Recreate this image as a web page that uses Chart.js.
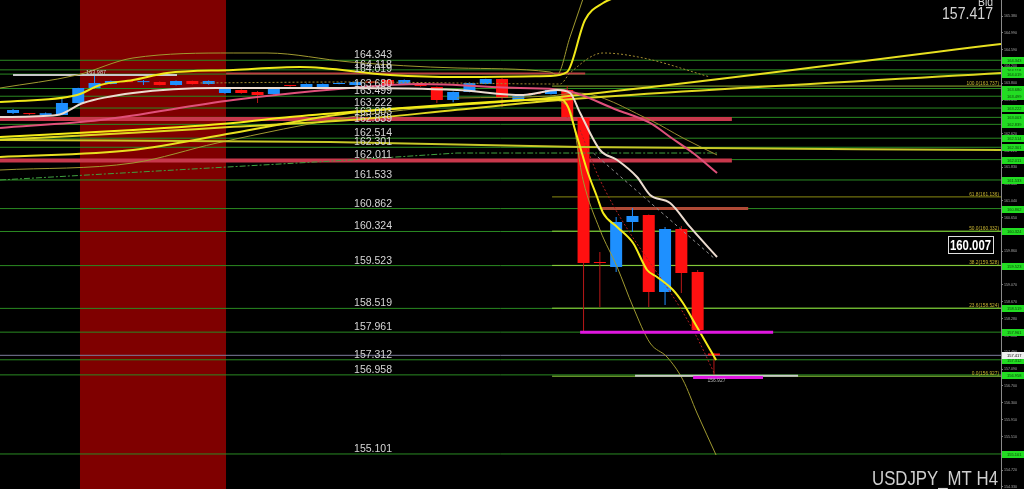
<!DOCTYPE html>
<html><head><meta charset="utf-8">
<script src="https://cdn.jsdelivr.net/npm/chart.js@4"></script>
<style>html,body{margin:0;padding:0;background:#000;overflow:hidden}canvas{display:block}</style>
</head><body>
<canvas id="c" width="1024" height="489"></canvas>
<script>
// ---------- DATA ----------
const opens  = [163.106,163.09,163.06,163.058,163.340,163.692,163.786,163.838,163.830,163.833,163.763,163.857,163.786,163.575,163.645,163.598,163.551,163.745,163.692,163.692,163.786,163.763,163.825,163.880,163.786,163.786,163.716,163.411,163.598,163.786,163.904,163.411,163.555,163.551,163.645,162.988,159.600,159.490,160.547,160.711,158.904,160.383,159.373,157.460];
const highs  = [163.20,163.10,163.12,163.434,163.70,163.974,163.87,163.85,163.88,163.85,163.87,163.87,163.87,163.68,163.66,163.62,163.68,163.76,163.80,163.80,163.83,163.85,163.84,163.89,163.89,163.80,163.73,163.61,163.82,163.91,163.92,163.52,163.57,163.66,163.737,163.01,159.843,160.664,160.875,160.72,160.430,160.453,159.42,157.48];
const lows   = [163.08,163.06,163.05,163.05,163.33,163.68,163.78,163.82,163.76,163.75,163.75,163.77,163.77,163.56,163.56,163.34,163.54,163.72,163.68,163.68,163.78,163.75,163.80,163.75,163.78,163.72,163.34,163.36,163.59,163.78,163.246,163.40,163.53,163.54,163.00,157.99,158.551,159.373,160.312,158.551,158.598,158.880,158.00,156.927];
const closes = [163.176,163.08,163.10,163.340,163.692,163.810,163.857,163.830,163.836,163.763,163.857,163.786,163.857,163.669,163.575,163.528,163.669,163.740,163.786,163.786,163.810,163.833,163.820,163.763,163.880,163.739,163.411,163.598,163.810,163.904,163.458,163.505,163.550,163.645,163.011,159.584,159.584,160.547,160.688,158.904,160.383,159.350,158.012,157.417];

const yTickValues = [165.380,164.990,164.590,164.200,163.800,163.410,163.020,162.620,162.220,161.830,161.440,161.040,160.650,160.260,159.860,159.460,159.070,158.670,158.280,157.880,157.490,157.090,156.700,156.300,155.910,155.510,155.120,154.720,154.330];
const levelPrices = [164.343,164.118,164.019,163.680,163.499,163.222,163.003,162.839,162.514,162.301,162.011,161.533,160.862,160.324,159.523,158.519,157.961,157.312,156.958,155.101];
const fibRatios = ['100.0','61.8','50.0','38.2','23.6','0.0'];
const fibPrices = [163.737,161.136,160.332,159.528,158.524,156.927];
const bidPrice = 157.417;
const crossPrice = 160.007;
const lowPrice = 156.927;
const highMarkPrice = 163.987;
const symbolText = 'USDJPY_MT H4';

// indicator lines: bar position / price
const bbUpX = [-0.8,3.93,7.36,13.5,15.58,20.67,27.24,32.94,33.37,34.17,34.97];
const bbUpY = [163.692,163.997,164.397,164.514,164.514,164.303,164.162,164.068,164.000,164.890,165.790];
const yUpX = [-0.8,3.93,5.34,7.36,9.45,13.5,17.61,23.13,27.24,32.94,33.99,35.09,36.2,37.2];
const yUpY = [163.364,163.528,163.763,163.880,164.044,164.115,164.185,164.000,163.950,163.974,164.068,165.289,165.688,165.85];
const whiteX = [-0.8,2.7,4.29,7.36,12.52,20.67,27.24,31.29,33.37,34.17,34.79,36.01,37.06,38.28,39.08,40.31,41.53,43.19];
const whiteY = [163.011,163.058,163.340,163.575,163.692,163.692,163.645,163.528,163.645,163.575,163.106,162.237,162.002,161.603,161.181,160.993,160.430,159.725];
const pinkX = [-0.8,5.34,13.5,20.67,24.97,31.1,33.74,37.06,39.08,40.31,41.72,43.19];
const pinkY = [162.753,162.941,163.411,163.692,163.786,163.692,163.645,163.176,162.871,162.542,162.166,161.697];
const oliveMidX = [27.24,32.94,34.6,39.08,41.1,43.19];
const oliveMidY = [163.458,163.505,163.575,162.941,162.519,162.120];
const fastX = [-0.8,7.36,13.5,16.99,20.67,29.26,33.56,34.05,34.48,34.79,35.21,35.83,36.2,37.06,38.04,38.9,39.51,40.49,41.1,41.96,43.13];
const fastY = [162.542,162.706,162.871,163.011,163.129,163.364,163.434,163.246,162.706,162.307,161.767,161.134,160.758,160.430,160.054,159.420,159.256,158.951,158.645,158.082,157.308];
const longAX = [-0.8,7.36,13.5,20.67,27.24,33.56,60.61];
const longAY = [162.073,162.237,162.636,163.106,163.293,163.481,164.725];
const longBX = [-0.8,7.36,13.5,20.67,27.24,33.56,60.61];
const longBY = [162.480,162.640,162.780,162.940,163.180,163.411,164.044];
const flatX = [-0.8,19.45,34.79,60.61];
const flatY = [162.472,162.425,162.307,162.237];
const bbLoX = [-0.8,7.36,12.52,20.67,27.24,33.0,34.17,34.97,36.01,37.06,38.04,39.08,40.12,41.1,41.96,43.13];
const bbLoY = [161.767,161.932,162.401,163.011,163.293,163.411,163.176,161.533,160.359,159.490,158.551,157.706,157.378,156.838,156.063,155.077];
const dotUpX = [11.5,20.67,33.56,34.17,36.2,38.66,42.76];
const dotUpY = [163.810,163.833,163.786,164.044,164.514,164.397,163.950];
const dotLoX = [34.79,36.01,41.72,43.13];
const dotLoY = [162.706,161.533,158.012,156.908];
const greyDashX = [35.6,43.0];
const greyDashY = [162.166,159.700];
const dashGreenX = [-0.8,20.67,27.24,43.19];
const dashGreenY = [161.533,162.002,162.166,162.166];

// horizontal objects: [price, fromBar, toBar]
const redLines = [[162.965,-0.8,44.1],[161.990,-0.8,44.1]];
const brownLines = [[160.862,36.13,45.1]];
const topRedLines = [[164.030,13.07,35.1]];
const whiteHighLines = [[163.997,0,10.06]];
const magentaLines = [[157.961,34.79,46.63],[156.895,41.72,46.01]];
const greyLowLines = [[156.940,38.16,48.16]];
const bandX = [4.1,13.07];
const fibFrom = 33.07;

// ---------- CHART ----------
const X_MIN = -0.8, X_MAX = 60.61, Y_MIN = 154.279, Y_MAX = 165.758;
const RED = '#ff1010', BLUE = '#1e90ff';

function lineDs(xs, ys, color, width, extra) {
  return Object.assign({type:'line', data: xs.map((x,i)=>({x, y: ys[i]})), borderColor: color, borderWidth: width,
    pointRadius: 0, fill: false, cubicInterpolationMode: 'monotone', tension: 0.4, order: 30}, extra || {});
}
function hDs(p, a, b, color, width, order, extra) {
  return Object.assign({type:'line', data:[{x:a, y:p},{x:b, y:p}], borderColor: color, borderWidth: width,
    pointRadius: 0, fill: false, tension: 0, order}, extra || {});
}

const datasets = [];
// band
datasets.push({type:'line', data:[{x:bandX[0], y:Y_MAX},{x:bandX[1], y:Y_MAX}], borderWidth:0, borderColor:'rgba(0,0,0,0)',
  pointRadius:0, fill:'start', backgroundColor:'#7f0000', order:100});
// green levels
levelPrices.forEach(p => datasets.push(hDs(p, X_MIN, X_MAX, '#2a8a22', 1, 90)));
// fib levels
fibPrices.forEach((p,i) => datasets.push(hDs(p, fibFrom, X_MAX, i === 1 ? '#8a8a12' : (i === 0 ? '#8fb030' : '#8fd23c'), 1, 88)));
// bid line
datasets.push(hDs(bidPrice, X_MIN, X_MAX, '#7c7c9c', 1, 87));
// red levels
redLines.forEach(r => datasets.push(hDs(r[0], r[1], r[2], '#c8384c', 4, 80)));
brownLines.forEach(r => datasets.push(hDs(r[0], r[1], r[2], '#b04a36', 3, 80)));
topRedLines.forEach(r => datasets.push(hDs(r[0], r[1], r[2], '#b84040', 2, 80)));
whiteHighLines.forEach(r => datasets.push(hDs(r[0], r[1], r[2], '#c8c8c8', 2, 80)));
// candles
const bars = opens.map((o,i)=>i);
datasets.push({type:'bar', data: bars.map(i => ({x:i, y:[lows[i], highs[i]]})),
  backgroundColor: bars.map(i => closes[i] >= opens[i] ? BLUE : '#b81818'), barThickness:1, grouped:false, inflateAmount:0, order:62});
datasets.push({type:'bar', data: bars.map(i => ({x:i, y:[opens[i], closes[i]]})),
  backgroundColor: bars.map(i => closes[i] >= opens[i] ? BLUE : RED), barThickness:12, minBarLength:1, grouped:false, inflateAmount:0, order:60});
// indicators
datasets.push(lineDs(bbUpX, bbUpY, '#a09a30', 1, {order:40}));
datasets.push(lineDs(bbLoX, bbLoY, '#a09a30', 1, {order:40}));
datasets.push(lineDs(dashGreenX, dashGreenY, '#3fa03f', 1, {order:41, borderDash:[6,2,2,2], tension:0, cubicInterpolationMode:'default'}));
datasets.push(lineDs(dotUpX, dotUpY, '#a08a30', 1, {order:41, borderDash:[2,2]}));
datasets.push(lineDs(dotLoX, dotLoY, '#b02020', 1, {order:41, borderDash:[2,2]}));
datasets.push(lineDs(greyDashX, greyDashY, '#909090', 1, {order:41, borderDash:[3,3]}));
datasets.push(lineDs(oliveMidX, oliveMidY, '#9a8a30', 1, {order:39}));
datasets.push(lineDs(flatX, flatY, '#c8c828', 2, {order:38}));
datasets.push(lineDs(longAX, longAY, '#e8e020', 2, {order:36}));
datasets.push(lineDs(longBX, longBY, '#e0d820', 2, {order:36}));
datasets.push(lineDs(pinkX, pinkY, '#e0507a', 2, {order:34}));
datasets.push(lineDs(whiteX, whiteY, '#ecdcd0', 2, {order:33}));
datasets.push(lineDs(yUpX, yUpY, '#f0e818', 2, {order:32}));
datasets.push(lineDs(fastX, fastY, '#f4ec18', 2, {order:31}));
// markers
greyLowLines.forEach(r => datasets.push(hDs(r[0], r[1], r[2], '#c8c8c8', 2, 22)));
magentaLines.forEach(r => datasets.push(hDs(r[0], r[1], r[2], '#e018e0', 3, 20)));

function fitText(ctx, text, x, y, w, alignRight) {
  const m = ctx.measureText(text).width;
  const s = w ? w / m : 1;
  ctx.save();
  ctx.translate(x, y);
  ctx.scale(s, 1);
  ctx.textAlign = 'left';
  ctx.fillText(text, alignRight ? -m : 0, 0);
  ctx.restore();
}

const textPlugin = {
  id: 'mtTexts',
  afterDatasetsDraw(chart) {
    const {ctx, scales:{x, y}, chartArea} = chart;
    ctx.save();
    ctx.textBaseline = 'alphabetic';
    // level labels
    ctx.font = '11px "Liberation Sans"';
    ctx.fillStyle = '#d6d6d6';
    const lx = x.getPixelForValue(20.92);
    levelPrices.forEach(p => fitText(ctx, p.toFixed(3), lx, y.getPixelForValue(p) - 2, 38));
    // fib labels
    ctx.font = '4.8px "Liberation Sans"';
    ctx.fillStyle = '#c8b432';
    fibPrices.forEach((p,i) => fitText(ctx, fibRatios[i] + '(' + p.toFixed(3) + ')', chartArea.right - 2, y.getPixelForValue(p) - 1, 0, true));
    // small price labels
    ctx.font = '6px "Liberation Sans"';
    ctx.fillStyle = '#b8b8b8';
    fitText(ctx, lowPrice.toFixed(3), x.getPixelForValue(42.6), y.getPixelForValue(lowPrice) + 6, 18);
    ctx.fillStyle = '#d0d0d0';
    fitText(ctx, highMarkPrice.toFixed(3), x.getPixelForValue(4.48), y.getPixelForValue(highMarkPrice) - 1, 20);
    // bid big text
    ctx.fillStyle = '#d4d4d4';
    ctx.font = '13px "Liberation Sans"';
    fitText(ctx, 'Bid', 993, 6, 15, true);
    ctx.font = '17px "Liberation Sans"';
    fitText(ctx, bidPrice.toFixed(3), 993, 19, 51, true);
    // symbol
    ctx.font = '21px "Liberation Sans"';
    ctx.fillStyle = '#cfcfcf';
    fitText(ctx, symbolText, 998, 485, 126, true);
    // cross price box
    const cy = y.getPixelForValue(crossPrice);
    ctx.fillStyle = '#000';
    ctx.fillRect(948, cy - 8, 45, 17);
    ctx.strokeStyle = '#e0e0e0';
    ctx.lineWidth = 1;
    ctx.strokeRect(948.5, Math.round(cy) - 8.5, 45, 17);
    ctx.fillStyle = '#ffffff';
    ctx.font = 'bold 15px "Liberation Sans"';
    fitText(ctx, crossPrice.toFixed(3), 950, Math.round(cy) + 5, 41);
    ctx.restore();
  },
  afterDraw(chart) {
    const {ctx, scales:{y}, chartArea} = chart;
    ctx.save();
    const x0 = chartArea.right + 1;
    levelPrices.forEach(p => {
      const py = Math.round(y.getPixelForValue(p));
      ctx.fillStyle = '#22dc22';
      ctx.fillRect(x0, py - 3, 1024 - x0, 7);
      ctx.fillStyle = '#0b3b0b';
      ctx.font = '4px "Liberation Sans"';
      ctx.textBaseline = 'middle';
      ctx.fillText(p.toFixed(3), x0 + 5, py + 0.5);
    });
    const by = Math.round(y.getPixelForValue(bidPrice));
    ctx.fillStyle = '#f0f0f0';
    ctx.fillRect(x0, by - 3, 1024 - x0, 7);
    ctx.fillStyle = '#000';
    ctx.font = '4px "Liberation Sans"';
    ctx.textBaseline = 'middle';
    ctx.fillText(bidPrice.toFixed(3), x0 + 5, by + 0.5);
    ctx.restore();
  }
};

new Chart(document.getElementById('c'), {
  type: 'bar',
  data: { datasets },
  options: {
    responsive: false, animation: false, events: [], devicePixelRatio: 1,
    layout: { padding: 0 },
    plugins: { legend: { display: false }, tooltip: { enabled: false } },
    scales: {
      x: { type: 'linear', min: X_MIN, max: X_MAX, display: false, offset: false },
      y: {
        position: 'right', min: Y_MIN, max: Y_MAX, beginAtZero: false,
        afterBuildTicks: s => { s.ticks = yTickValues.map(v => ({ value: v })); },
        afterFit: s => { s.width = 23; s.paddingTop = 0; s.paddingBottom = 0; },
        ticks: { color: '#a8a8a8', font: { size: 3.6, family: '"Liberation Sans"' }, padding: 1, autoSkip: false, maxRotation: 0,
          callback: v => Number(v).toFixed(3) },
        grid: { display: true, drawOnChartArea: false, drawTicks: true, tickLength: 2, color: '#808080' },
        border: { display: true, color: '#8a8a8a' }
      }
    }
  },
  plugins: [textPlugin]
});
</script>
</body></html>
